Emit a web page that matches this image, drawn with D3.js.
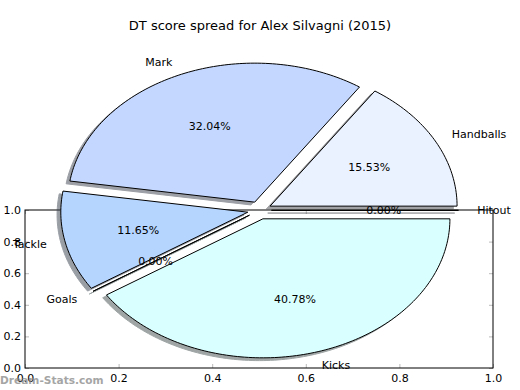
<!DOCTYPE html>
<html>
<head>
<meta charset="utf-8">
<script src="https://cdn.jsdelivr.net/npm/d3@7"></script>
<style>
body { margin: 0; background: #fff; }
text { font-family: "DejaVu Sans", sans-serif; }
</style>
</head>
<body>
<svg width="520" height="390"></svg>
<script>
// DT points per stat, in pie order (counter-clockwise from 3 o'clock)
var categories = ['Hitout', 'Handballs', 'Mark', 'Tackle', 'Goals', 'Kicks'];
var dtPoints = [0, 16, 33, 12, 0, 42];
var sliceColors = ['#f0f8ff', '#eaf1ff', '#c4d8ff', '#b5d5ff', '#ccffff', '#d9ffff'];
var axisTicks = [0, 0.2, 0.4, 0.6, 0.8, 1.0];
var chartTitle = 'DT score spread for Alex Silvagni (2015)';

var svg = d3.select('svg');
var svgWidth = +svg.attr('width');

// the (empty) axes box the pie sits on
var frame = {l: 25, r: 493, t: 210, b: 368};
var xScale = d3.scaleLinear().domain([0, 1]).range([frame.l, frame.r]);
var yScale = d3.scaleLinear().domain([0, 1]).range([frame.b, frame.t]);

var axesG = svg.append('g');

function styleAxis(g) {
    g.select('.domain').remove();
    g.selectAll('.tick line').attr('stroke', '#bbb');
    g.selectAll('.tick text').attr('fill', '#000').style('font-size', '11px')
        .style('font-family', '"DejaVu Sans", sans-serif');
}

axesG.append('g').attr('transform', 'translate(0,' + frame.b + ')')
    .call(d3.axisBottom(xScale).tickValues(axisTicks).tickFormat(d3.format('.1f'))
        .tickSize(-4).tickPadding(6))
    .call(styleAxis);
axesG.append('g').attr('transform', 'translate(0,' + frame.t + ')')
    .call(d3.axisTop(xScale).tickValues(axisTicks).tickFormat('').tickSize(-4))
    .call(styleAxis);
axesG.append('g').attr('transform', 'translate(' + frame.l + ',0)')
    .call(d3.axisLeft(yScale).tickValues(axisTicks).tickFormat(d3.format('.1f'))
        .tickSize(-4).tickPadding(4))
    .call(styleAxis);
axesG.append('g').attr('transform', 'translate(' + frame.r + ',0)')
    .call(d3.axisRight(yScale).tickValues(axisTicks).tickFormat('').tickSize(-4))
    .call(styleAxis);

axesG.append('rect')
    .attr('x', xScale(0)).attr('y', yScale(1))
    .attr('width', xScale(1) - xScale(0)).attr('height', yScale(0) - yScale(1))
    .attr('fill', 'none').attr('stroke', '#000').attr('stroke-width', 1);

// pie (elliptical because of the non-equal aspect)
var pieCx = 259.5, pieCy = 210.3, pieRx = 187, pieRy = 139;
var pieX = d3.scaleLinear().domain([-1, 1]).range([pieCx - pieRx, pieCx + pieRx]);
var pieY = d3.scaleLinear().domain([-1, 1]).range([pieCy + pieRy, pieCy - pieRy]);
var explode = 0.064, shadowOff = -0.02;

var total = d3.sum(dtPoints);
var slices = d3.pie().sort(null).value(function(d) { return d; })(dtPoints);

slices.forEach(function(s, i) {
    s.name = categories[i];
    s.color = sliceColors[i];
    s.mid = (s.startAngle + s.endAngle) / 2;
    s.ox = explode * Math.cos(s.mid);
    s.oy = explode * Math.sin(s.mid);
});

function wedgePoints(s, dx, dy) {
    var ox = s.ox + dx, oy = s.oy + dy;
    var pts = [[ox, oy]];
    var span = s.endAngle - s.startAngle;
    var n = Math.max(1, Math.ceil(span / 0.02));
    for (var k = 0; k <= n; k++) {
        var t = s.startAngle + span * k / n;
        pts.push([ox + Math.cos(t), oy + Math.sin(t)]);
    }
    return pts;
}

var line = d3.line()
    .x(function(p) { return pieX(p[0]); })
    .y(function(p) { return pieY(p[1]); });

var pieG = svg.append('g');

// shadows first, behind every wedge
pieG.selectAll('.shadow')
    .data(slices)
    .enter().append('path')
    .attr('class', 'shadow')
    .attr('d', function(s) { return line(wedgePoints(s, shadowOff, shadowOff)) + 'Z'; })
    .each(function(s) {
        var c = d3.rgb(s.color);
        var sc = d3.rgb(c.r * 0.3, c.g * 0.3, c.b * 0.3);
        d3.select(this).attr('fill', sc).attr('stroke', sc).attr('opacity', 0.5);
    });

pieG.selectAll('.wedge')
    .data(slices)
    .enter().append('path')
    .attr('class', 'wedge')
    .attr('d', function(s) { return line(wedgePoints(s, 0, 0)) + 'Z'; })
    .attr('fill', function(s) { return s.color; })
    .attr('stroke', '#000')
    .attr('stroke-width', 1)
    .attr('stroke-linejoin', 'miter');

// category labels at 1.1 radius
pieG.selectAll('.label')
    .data(slices)
    .enter().append('text')
    .attr('class', 'label')
    .attr('x', function(s) { return pieX(s.ox + 1.1 * Math.cos(s.mid)); })
    .attr('y', function(s) { return pieY(s.oy + 1.1 * Math.sin(s.mid)); })
    .attr('dy', '0.35em')
    .attr('text-anchor', function(s) { return (s.ox + 1.1 * Math.cos(s.mid)) > 0 ? 'start' : 'end'; })
    .style('font-size', '11px')
    .text(function(s) { return s.name; });

// percentages at 0.6 radius
pieG.selectAll('.pct')
    .data(slices)
    .enter().append('text')
    .attr('class', 'pct')
    .attr('x', function(s) { return pieX(s.ox + 0.6 * Math.cos(s.mid)); })
    .attr('y', function(s) { return pieY(s.oy + 0.6 * Math.sin(s.mid)); })
    .attr('dy', '0.35em')
    .attr('text-anchor', 'middle')
    .style('font-size', '11px')
    .text(function(s) { return (100 * s.data / total).toFixed(2) + '%'; });

svg.append('text')
    .attr('x', svgWidth / 2)
    .attr('y', 30)
    .attr('text-anchor', 'middle')
    .style('font-size', '13px')
    .text(chartTitle);

// watermark
svg.append('text')
    .attr('x', 0)
    .attr('y', 384)
    .attr('fill', '#888')
    .attr('opacity', 0.75)
    .style('font-size', '10.6px')
    .style('font-weight', 'bold')
    .text('Dream-Stats.com');
</script>
</body>
</html>
